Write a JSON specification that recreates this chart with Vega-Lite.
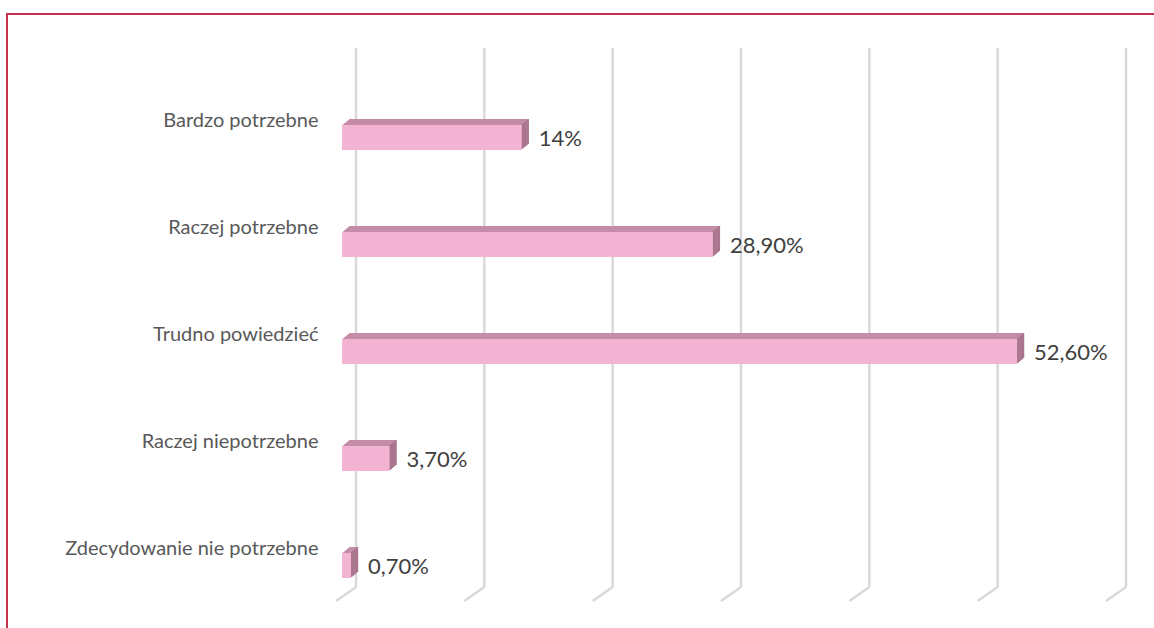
{
  "$schema": "https://vega.github.io/schema/vega-lite/v6.json",
  "autosize": {"type": "none"},
  "padding": {"left": 7, "top": 14, "right": -2, "bottom": -2},
  "width": 1149,
  "height": 616,
  "background": "#FFFFFF",
  "config": {
    "view": {"stroke": "#C4314F", "strokeWidth": 2},
    "font": "Lato"
  },
  "datasets": {
    "bars": [
      {"cat": "Bardzo potrzebne", "v": 14, "lab": "14%"},
      {"cat": "Raczej potrzebne", "v": 28.9, "lab": "28,90%"},
      {"cat": "Trudno powiedzieć", "v": 52.6, "lab": "52,60%"},
      {"cat": "Raczej niepotrzebne", "v": 3.7, "lab": "3,70%"},
      {"cat": "Zdecydowanie nie potrzebne", "v": 0.7, "lab": "0,70%"}
    ],
    "grid": [{"g": 0}, {"g": 10}, {"g": 20}, {"g": 30}, {"g": 40}, {"g": 50}, {"g": 60}]
  },
  "data": {"name": "bars"},
  "layer": [
    {
      "data": {"name": "grid"},
      "mark": {"type": "rule", "color": "#D9D9D9", "strokeWidth": 2.5, "xOffset": 14, "yOffset": -89.5, "y2Offset": 21.5},
      "encoding": {
        "x": {"field": "g", "type": "quantitative", "scale": {"domain": [0, 60], "range": [335, 1105]}, "axis": null},
        "y": {"datum": "Bardzo potrzebne", "type": "nominal"},
        "y2": {"datum": "Zdecydowanie nie potrzebne"}
      }
    },
    {
      "data": {"name": "grid"},
      "mark": {"type": "rule", "color": "#D9D9D9", "strokeWidth": 2.5, "xOffset": 14, "x2Offset": -6, "yOffset": 21.5, "y2Offset": 35.5},
      "encoding": {
        "x": {"field": "g", "type": "quantitative"},
        "x2": {"field": "g"},
        "y": {"datum": "Zdecydowanie nie potrzebne", "type": "nominal"},
        "y2": {"datum": "Zdecydowanie nie potrzebne"}
      }
    },
    {
      "mark": {"type": "bar", "color": "#C48CA6", "xOffset": 7, "x2Offset": 7, "yOffset": -6, "y2Offset": -6},
      "encoding": {"x": {"field": "v", "type": "quantitative"}, "y": {"field": "cat", "type": "nominal"}}
    },
    {
      "mark": {"type": "bar", "color": "#C48CA6", "xOffset": 5.8, "x2Offset": 5.8, "yOffset": -5, "y2Offset": -5},
      "encoding": {"x": {"field": "v", "type": "quantitative"}, "y": {"field": "cat", "type": "nominal"}}
    },
    {
      "mark": {"type": "bar", "color": "#C48CA6", "xOffset": 4.7, "x2Offset": 4.7, "yOffset": -4, "y2Offset": -4},
      "encoding": {"x": {"field": "v", "type": "quantitative"}, "y": {"field": "cat", "type": "nominal"}}
    },
    {
      "mark": {"type": "bar", "color": "#C48CA6", "xOffset": 3.5, "x2Offset": 3.5, "yOffset": -3, "y2Offset": -3},
      "encoding": {"x": {"field": "v", "type": "quantitative"}, "y": {"field": "cat", "type": "nominal"}}
    },
    {
      "mark": {"type": "bar", "color": "#C48CA6", "xOffset": 2.3, "x2Offset": 2.3, "yOffset": -2, "y2Offset": -2},
      "encoding": {"x": {"field": "v", "type": "quantitative"}, "y": {"field": "cat", "type": "nominal"}}
    },
    {
      "mark": {"type": "bar", "color": "#C48CA6", "xOffset": 1.2, "x2Offset": 1.2, "yOffset": -1, "y2Offset": -1},
      "encoding": {"x": {"field": "v", "type": "quantitative"}, "y": {"field": "cat", "type": "nominal"}}
    },
    {
      "mark": {"type": "bar", "color": "#A9768E", "xOffset": 0, "x2Offset": 1.4, "yOffset": -1, "y2Offset": -1},
      "encoding": {"x": {"field": "v", "type": "quantitative"}, "x2": {"field": "v"}, "y": {"field": "cat", "type": "nominal"}}
    },
    {
      "mark": {"type": "bar", "color": "#A9768E", "xOffset": 1.2, "x2Offset": 2.5, "yOffset": -2, "y2Offset": -2},
      "encoding": {"x": {"field": "v", "type": "quantitative"}, "x2": {"field": "v"}, "y": {"field": "cat", "type": "nominal"}}
    },
    {
      "mark": {"type": "bar", "color": "#A9768E", "xOffset": 2.3, "x2Offset": 3.7, "yOffset": -3, "y2Offset": -3},
      "encoding": {"x": {"field": "v", "type": "quantitative"}, "x2": {"field": "v"}, "y": {"field": "cat", "type": "nominal"}}
    },
    {
      "mark": {"type": "bar", "color": "#A9768E", "xOffset": 3.5, "x2Offset": 4.9, "yOffset": -4, "y2Offset": -4},
      "encoding": {"x": {"field": "v", "type": "quantitative"}, "x2": {"field": "v"}, "y": {"field": "cat", "type": "nominal"}}
    },
    {
      "mark": {"type": "bar", "color": "#A9768E", "xOffset": 4.7, "x2Offset": 6, "yOffset": -5, "y2Offset": -5},
      "encoding": {"x": {"field": "v", "type": "quantitative"}, "x2": {"field": "v"}, "y": {"field": "cat", "type": "nominal"}}
    },
    {
      "mark": {"type": "bar", "color": "#A9768E", "xOffset": 5.8, "x2Offset": 7.2, "yOffset": -6, "y2Offset": -6},
      "encoding": {"x": {"field": "v", "type": "quantitative"}, "x2": {"field": "v"}, "y": {"field": "cat", "type": "nominal"}}
    },
    {
      "mark": {"type": "bar", "color": "#F3B3D3"},
      "encoding": {
        "x": {"field": "v", "type": "quantitative"},
        "y": {
          "field": "cat", "type": "nominal", "sort": null,
          "scale": {"domain": ["Bardzo potrzebne", "Raczej potrzebne", "Trudno powiedzieć", "Raczej niepotrzebne", "Zdecydowanie nie potrzebne"], "range": [70, 605], "paddingInner": 0.766, "paddingOuter": 0.383},
          "axis": {"domain": false, "ticks": false, "grid": false, "title": null, "labelPadding": 0, "offset": -311, "labelOffset": -17, "labelFontSize": 20, "labelColor": "#595959", "labelFont": "Lato", "labelLimit": 0}
        }
      }
    },
    {
      "mark": {"type": "text", "align": "left", "baseline": "middle", "dx": 17, "dy": 1, "fontSize": 22, "color": "#404040", "font": "Lato"},
      "encoding": {
        "x": {"field": "v", "type": "quantitative"},
        "y": {"field": "cat", "type": "nominal"},
        "text": {"field": "lab"}
      }
    }
  ]
}
